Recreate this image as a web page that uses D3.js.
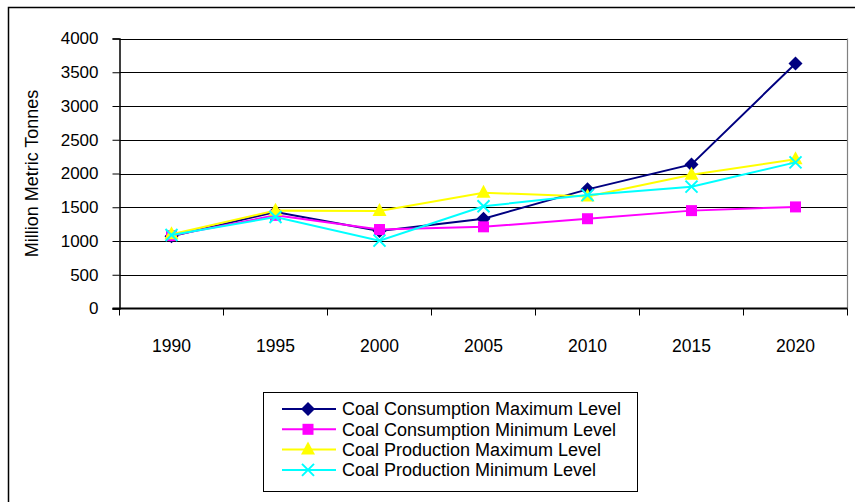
<html>
<head>
<script src="https://cdn.jsdelivr.net/npm/d3@7/dist/d3.min.js"></script>
<style>
body { margin: 0; background: #fff; }
text { font-family: "Liberation Sans", Arial, sans-serif; fill: #000; }
</style>
</head>
<body>
<div id="chart"></div>
<script>
// data
var years = ["1990", "1995", "2000", "2005", "2010", "2015", "2020"];
var consMax = [1070, 1430, 1150, 1330, 1765, 2135, 3630];
var consMin = [1080, 1380, 1170, 1210, 1330, 1450, 1505];
var prodMax = [1100, 1450, 1445, 1715, 1660, 1980, 2210];
var prodMin = [1090, 1355, 1005, 1515, 1680, 1805, 2165];
var yTicks = [0, 500, 1000, 1500, 2000, 2500, 3000, 3500, 4000];

var series = [
  {name: "Coal Consumption Maximum Level", values: consMax, color: "#000080", marker: "diamond"},
  {name: "Coal Consumption Minimum Level", values: consMin, color: "#ff00ff", marker: "square"},
  {name: "Coal Production Maximum Level", values: prodMax, color: "#ffff00", marker: "triangle"},
  {name: "Coal Production Minimum Level", values: prodMin, color: "#00ffff", marker: "cross"}
];

var W = 855, H = 502;
var pLeft = 119.5, pRight = 847.5, pTop = 38.5, pBottom = 308.5;

var svg = d3.select("#chart").append("svg")
    .attr("width", W).attr("height", H);

// outer chart border (runs off right/bottom)
svg.append("rect")
    .attr("x", 8.5).attr("y", 7.5)
    .attr("width", 900).attr("height", 600)
    .attr("fill", "none").attr("stroke", "#000").attr("stroke-width", 1.5);

var x = d3.scaleBand().domain(years).range([pLeft, pRight]);
var y = d3.scaleLinear().domain([0, 4000]).range([pBottom, pTop]);

// gridlines
svg.append("g").selectAll("line")
    .data(yTicks.filter(function(d){ return d > 0; }))
  .enter().append("line")
    .attr("x1", pLeft).attr("x2", pRight)
    .attr("y1", function(d){ return Math.round(y(d)) + 0.5; })
    .attr("y2", function(d){ return Math.round(y(d)) + 0.5; })
    .attr("stroke", "#000").attr("stroke-width", 1);

// right edge of plot area
svg.append("line")
    .attr("x1", pRight).attr("x2", pRight)
    .attr("y1", pTop).attr("y2", pBottom)
    .attr("stroke", "#808080").attr("stroke-width", 1.2);

// y axis
var yAxis = svg.append("g")
    .attr("transform", "translate(" + pLeft + ",0)")
    .call(d3.axisLeft(y).tickValues(yTicks).tickFormat(d3.format("d")).tickSize(7).tickPadding(14));
yAxis.select(".domain").attr("stroke", "#000").attr("stroke-width", 1.5);
yAxis.selectAll(".tick line").attr("stroke", "#000");
yAxis.selectAll("text").style("font-size", "17px").style("font-family", null);

// x axis: ticks at band edges
var xAxisG = svg.append("g").attr("transform", "translate(0," + pBottom + ")");
xAxisG.append("line")
    .attr("x1", pLeft - 7).attr("x2", pRight)
    .attr("stroke", "#000").attr("stroke-width", 2);
var edges = years.map(function(d){ return x(d); }).concat([pRight]);
xAxisG.selectAll("line.tk").data(edges).enter().append("line")
    .attr("class", "tk")
    .attr("x1", function(d){ return d; }).attr("x2", function(d){ return d; })
    .attr("y1", 0).attr("y2", 7)
    .attr("stroke", "#000").attr("stroke-width", 1);
xAxisG.selectAll("text").data(years).enter().append("text")
    .attr("x", function(d){ return x(d) + x.bandwidth() / 2; })
    .attr("y", 43)
    .attr("text-anchor", "middle")
    .style("font-size", "17.5px")
    .text(function(d){ return d; });

// y axis title
svg.append("text")
    .attr("transform", "translate(38," + (pTop + pBottom) / 2 + ") rotate(-90)")
    .attr("text-anchor", "middle")
    .style("font-size", "18px")
    .text("Million Metric Tonnes");

function drawMarker(g, type, color) {
  if (type === "diamond") {
    g.append("path").attr("d", "M0,-7L7,0L0,7L-7,0Z").attr("fill", color);
  } else if (type === "square") {
    g.append("rect").attr("x", -5.5).attr("y", -5.5).attr("width", 11).attr("height", 11).attr("fill", color);
  } else if (type === "triangle") {
    g.append("path").attr("d", "M0,-8L7,5L-7,5Z").attr("fill", color);
  } else {
    g.append("path").attr("d", "M-6,-6L6,6M-6,6L6,-6").attr("stroke", color).attr("stroke-width", 2).attr("fill", "none");
  }
}

var line = d3.line()
    .x(function(d, i){ return x(years[i]) + x.bandwidth() / 2; })
    .y(function(d){ return y(d); });

series.forEach(function(s) {
  svg.append("path")
      .datum(s.values)
      .attr("d", line)
      .attr("fill", "none")
      .attr("stroke", s.color)
      .attr("stroke-width", 2);
  s.values.forEach(function(v, i) {
    var g = svg.append("g")
        .attr("transform", "translate(" + (x(years[i]) + x.bandwidth() / 2) + "," + y(v) + ")");
    drawMarker(g, s.marker, s.color);
  });
});

// legend
var legend = svg.append("g");
legend.append("rect")
    .attr("x", 263.5).attr("y", 392.5)
    .attr("width", 374).attr("height", 99)
    .attr("fill", "#fff").attr("stroke", "#000").attr("stroke-width", 1);
series.forEach(function(s, i) {
  var ly = 409 + i * 20.3;
  var g = legend.append("g");
  g.append("line")
      .attr("x1", 282).attr("x2", 336)
      .attr("y1", ly).attr("y2", ly)
      .attr("stroke", s.color).attr("stroke-width", 2);
  var m = g.append("g").attr("transform", "translate(308," + ly + ")");
  drawMarker(m, s.marker, s.color);
  g.append("text")
      .attr("x", 342).attr("y", ly)
      .attr("dy", "0.35em")
      .style("font-size", "18px")
      .text(s.name);
});
</script>
</body>
</html>
